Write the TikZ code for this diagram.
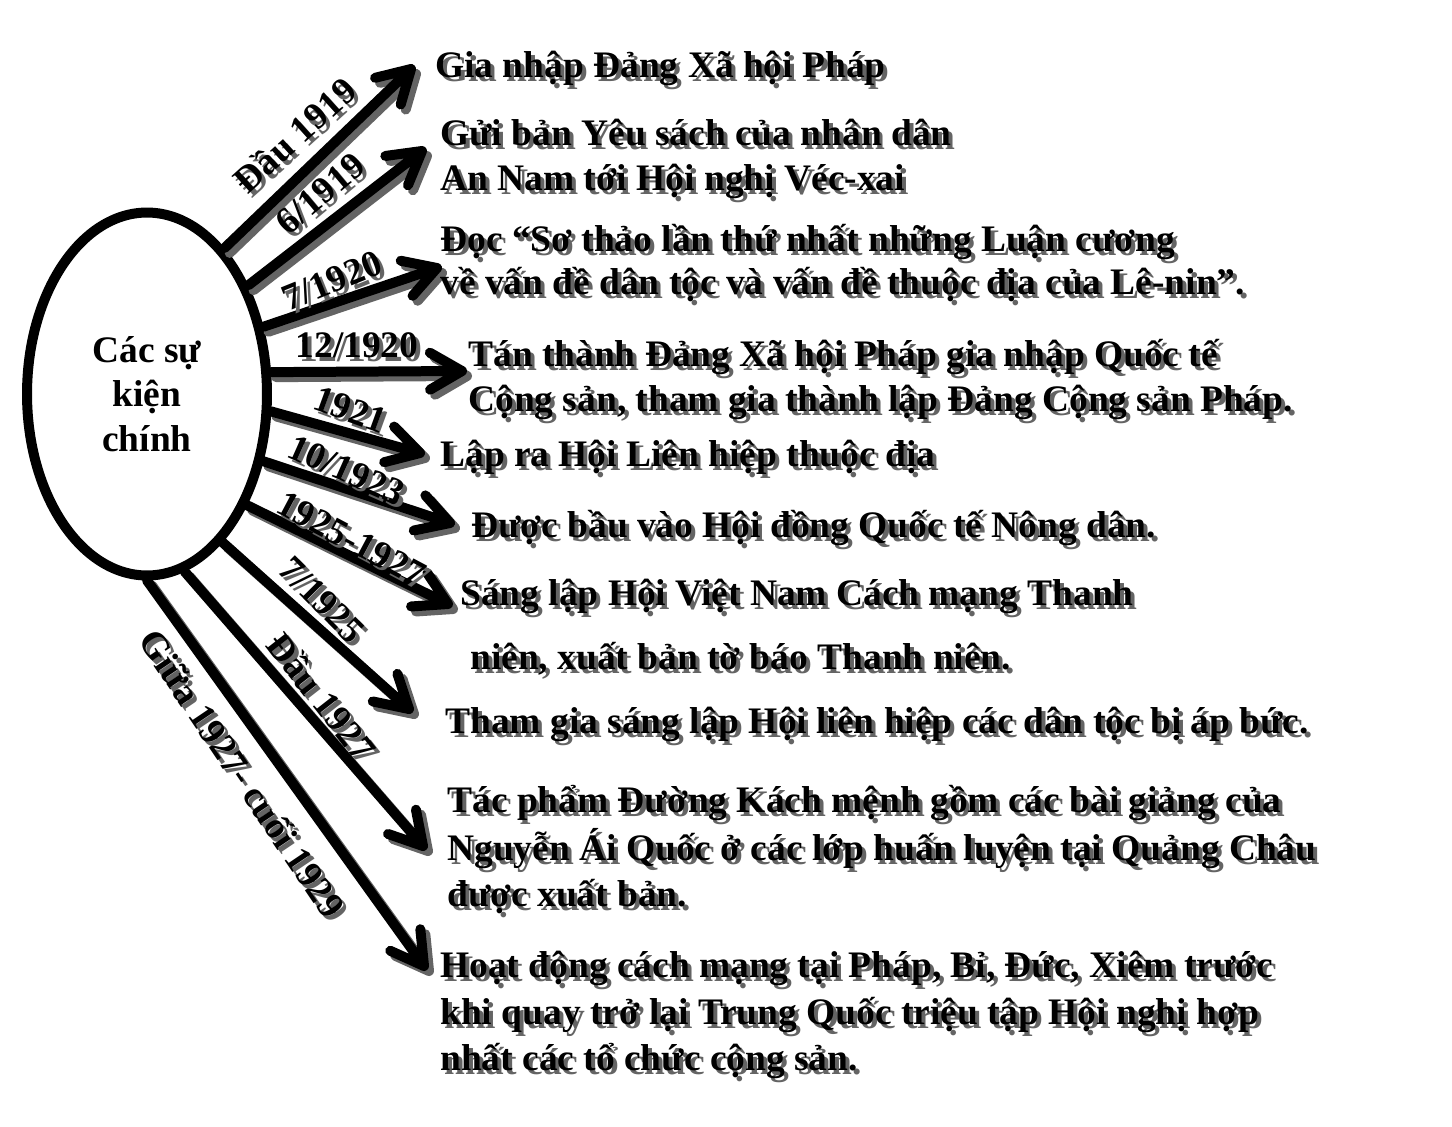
\documentclass[tikz,border=0pt]{standalone}
\usepackage{fontspec}
\setmainfont{Liberation Serif}
\usetikzlibrary{calc,shapes.geometric}
\definecolor{shd}{HTML}{646464}
% text with a grey drop shadow (down-right on the page); #1 = rotation of the node
\newcommand\shtx[2][0]{%
  \pgfmathsetmacro\shdx{0.08*(cos(#1)-sin(#1))}%
  \pgfmathsetmacro\shdy{-0.08*(sin(#1)+cos(#1))}%
  \leavevmode\rlap{\kern\shdx cm\raisebox{\shdy cm}{\textcolor{shd}{#2}}}#2}
\begin{document}
\begin{tikzpicture}[x=0.02cm,y=-0.02cm,
  txt/.style={font=\bfseries\fontsize{21.3}{25}\selectfont, inner sep=0pt, anchor=base west},
  lbl/.style={font=\bfseries\fontsize{21.3}{25}\selectfont, inner sep=0pt},
  arrw/.style={line width=0.2cm, line cap=round, line join=round},
]
\fill[white] (0,0) rectangle (1452,1126);
\useasboundingbox (0,0) rectangle (1452,1126);

% central ellipse
\node[draw, ellipse, line width=0.2cm, minimum width=4.8cm, minimum height=7.26cm,
      inner sep=0pt, align=center, font=\bfseries\fontsize{21.3}{25.3}\selectfont] (E) at (147,394)
      {Các sự\\kiện\\chính};

% arrow tips
\coordinate (p1) at (411,69);
\coordinate (p2) at (422,151);
\coordinate (p3) at (437,268);
\coordinate (p4) at (462,371);
\coordinate (p5) at (420,453);
\coordinate (p6) at (450,523);
\coordinate (p7) at (448,604);
\coordinate (p8) at (409,709);
\coordinate (p9) at (423,846);
\coordinate (p10) at (424,966);

\def\arrlist{E.62/p1, E.47/p2, E.30/p3, E.10.5/p4, E.-8/p5, E.-30/p6, E.-48/p7, E.-63/p8, E.-78/p9, E.-90/p10}

% arrow shadows
\foreach \s/\e in \arrlist {
  \draw[arrw, shd] ($(\s)+(5,5)$) -- ($(\e)+(5,5)$)
    ($(\e)!0.74cm!30:(\s)+(5,5)$) -- ($(\e)+(5,5)$) -- ($(\e)!0.74cm!-30:(\s)+(5,5)$);
}
% arrows
\foreach \s/\e in \arrlist {
  \draw[arrw, black] (\s) -- (\e)
    ($(\e)!0.74cm!30:(\s)$) -- (\e) -- ($(\e)!0.74cm!-30:(\s)$);
}

% date labels
\node[lbl, rotate=42] (l1) at (296,137) {\shtx[42]{Đầu 1919}};
\node[lbl, rotate=40] (l2) at (322,196) {\shtx[40]{6/1919}};
\node[lbl, rotate=22] (l3) at (333,283) {\shtx[22]{7/1920}};
\node[lbl] (l4) at (357,347) {\shtx{12/1920}};
\node[lbl, rotate=-20] (l5) at (350,411) {\shtx[-20]{1921}};
\node[lbl, rotate=-24] (l6) at (346,471) {\shtx[-24]{10/1923}};
\node[lbl, rotate=-28] (l7) at (351,540) {\shtx[-28]{1925-1927}};
\node[lbl, rotate=-45] (l8) at (322,600) {\shtx[-45]{7/1925}};
\node[lbl, rotate=-52] (l9) at (322,696) {\shtx[-52]{Đầu 1927}};
\node[lbl, rotate=-56] (l10) at (243,773) {\shtx[-56]{Giữa 1927- cuối 1929}};

% event texts
\node[txt] (t1) at (435,77) {\shtx{Gia nhập Đảng Xã hội Pháp}};
\node[txt] (t2a) at (440,145) {\shtx{Gửi bản Yêu sách của nhân dân}};
\node[txt] (t2b) at (440,190) {\shtx{An Nam tới Hội nghị Véc-xai}};
\node[txt] (t3a) at (440,251) {\shtx{Đọc “Sơ thảo lần thứ nhất những Luận cương}};
\node[txt] (t3b) at (440,294) {\shtx{về vấn đề dân tộc và vấn đề thuộc địa của Lê-nin”.}};
\node[txt] (t4a) at (468,366) {\shtx{Tán thành Đảng Xã hội Pháp gia nhập Quốc tế}};
\node[txt] (t4b) at (468,411) {\shtx{Cộng sản, tham gia thành lập Đảng Cộng sản Pháp.}};
\node[txt] (t5) at (440,466) {\shtx{Lập ra Hội Liên hiệp thuộc địa}};
\node[txt] (t6) at (471,537) {\shtx{Được bầu vào Hội đồng Quốc tế Nông dân.}};
\node[txt] (t7a) at (460,605) {\shtx{Sáng lập Hội Việt Nam Cách mạng Thanh}};
\node[txt] (t7b) at (470,669) {\shtx{niên, xuất bản tờ báo Thanh niên.}};
\node[txt] (t8) at (445,733) {\shtx{Tham gia sáng lập Hội liên hiệp các dân tộc bị áp bức.}};
\node[txt] (t9a) at (447,812) {\shtx{Tác phẩm Đường Kách mệnh gồm các bài giảng của}};
\node[txt] (t9b) at (447,860) {\shtx{Nguyễn Ái Quốc ở các lớp huấn luyện tại Quảng Châu}};
\node[txt] (t9c) at (447,906) {\shtx{được xuất bản.}};
\node[txt] (t10a) at (440,977) {\shtx{Hoạt động cách mạng tại Pháp, Bỉ, Đức, Xiêm trước}};
\node[txt] (t10b) at (440,1024) {\shtx{khi quay trở lại Trung Quốc triệu tập Hội nghị hợp}};
\node[txt] (t10c) at (440,1070) {\shtx{nhất các tổ chức cộng sản.}};
\end{tikzpicture}
\end{document}
